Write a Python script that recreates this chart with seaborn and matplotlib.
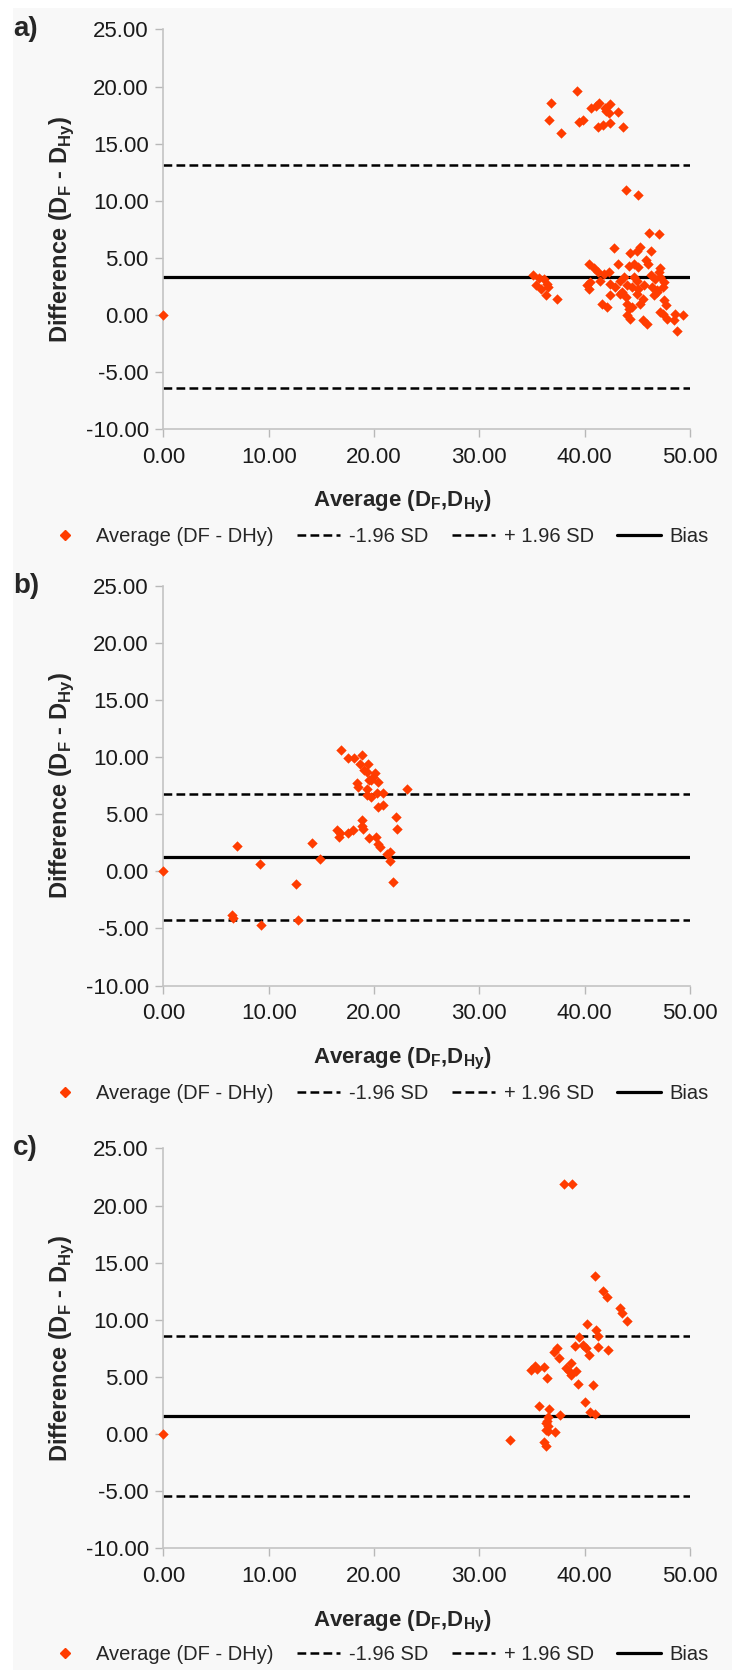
import matplotlib

matplotlib.use("Agg")
import matplotlib.pyplot as plt
import pandas as pd
import seaborn as sns
from matplotlib.lines import Line2D
from matplotlib.patches import Rectangle


# panel a) - average vs difference
A_AVG = [
    36.8, 36.6, 37.8, 39.3, 39.5, 39.8, 40.6, 41.4, 41.9, 42.4, 42.3, 43.2, 41.3, 41.7, 42.4, 43.6, 41.1, 42.0,
    43.9, 45.1,
    46.1, 47.05, 42.75, 44.3, 45.0, 45.3, 46.3, 45.8, 46.0, 43.2, 44.2, 44.7, 45.1, 47.2, 47.05,
    40.4, 40.85, 41.3, 41.8, 42.3, 35.06, 35.7, 36.1, 36.4, 36.55, 35.4, 35.9, 36.3, 37.35,
    40.2, 40.5, 40.4, 41.5, 42.4, 42.9, 43.4, 43.7, 44.7, 45.0, 44.0, 44.5, 45.1, 45.6,
    46.3, 46.7, 47.2, 47.5, 46.4, 46.9, 47.4, 43.4, 43.9, 43.55, 42.4, 45.0, 45.5, 45.3,
    46.6, 46.9, 41.6, 42.1, 44.0, 44.5, 44.2, 47.5, 47.7, 47.2, 47.4, 44.0, 44.35,
    45.5, 45.9, 47.8, 48.5, 48.6, 49.3, 48.8,
    0.0,
]
A_DIFF = [
    18.6, 17.1, 15.9, 19.6, 16.9, 17.05, 18.1, 18.6, 18.1, 18.5, 17.7, 17.75, 16.5, 16.65, 16.8, 16.5, 18.3, 17.9,
    10.98, 10.54,
    7.17, 7.11, 5.86, 5.42, 5.59, 6.0, 5.65, 4.84, 4.49, 4.49, 4.26, 4.43, 4.2, 4.14, 3.76,
    4.43, 4.14, 3.76, 3.6, 3.76, 3.47, 3.27, 3.18, 2.74, 2.45, 2.6, 2.3, 1.72, 1.43,
    2.6, 2.9, 2.3, 3.0, 2.74, 2.45, 3.0, 3.3, 3.3, 3.0, 2.6, 2.45, 2.3, 2.6,
    3.47, 3.18, 3.3, 2.89, 2.45, 2.16, 2.45, 1.87, 1.58, 2.0, 1.72, 1.87, 1.43, 1.0,
    1.72, 2.0, 1.0, 0.7, 1.0, 0.7, 0.56, 1.29, 0.85, 0.27, 0.13, -0.02, -0.31,
    -0.46, -0.81, -0.31, -0.46, 0.12, -0.02, -1.39,
    0.0,
]
A_LIMITS = [-6.4, 13.1]
A_BIAS = 3.35

# panel b)
B_AVG = [
    16.9, 17.5, 18.1, 18.9, 18.7, 19.4, 19.1, 19.3, 20.1, 19.9, 19.5, 19.7, 20.4, 18.4, 18.5,
    19.3, 20.3, 20.9, 19.3, 19.7, 20.4, 20.9, 23.1, 22.1, 22.2, 18.9, 18.9, 19.0,
    16.5, 16.8, 17.5, 18.0, 16.7, 19.5, 20.2, 20.4, 20.6, 21.2, 21.5, 21.5, 21.8,
    14.1, 14.9, 7.0, 9.2, 12.6, 6.5, 6.6, 12.8, 9.3, 0.0,
]
B_DIFF = [
    10.6, 9.9, 9.9, 10.2, 9.4, 9.4, 8.9, 8.7, 8.6, 8.3, 8.0, 8.0, 7.8, 7.7, 7.4,
    7.2, 6.9, 6.9, 6.7, 6.5, 5.6, 5.8, 7.2, 4.8, 3.7, 4.5, 4.0, 3.7,
    3.6, 3.4, 3.4, 3.6, 3.0, 2.9, 3.0, 2.4, 2.1, 1.55, 1.7, 0.9, -0.9,
    2.5, 1.1, 2.2, 0.64, -1.14, -3.86, -4.06, -4.3, -4.7, 0.0,
]
B_LIMITS = [-4.3, 6.8]
B_BIAS = 1.26

# panel c)
C_AVG = [
    38.0, 38.8, 41.0, 41.7, 42.1, 43.4, 43.5, 44.0, 40.2, 41.1, 41.3, 39.5, 39.1, 39.8, 40.1,
    40.4, 41.3, 42.2, 37.1, 37.4, 37.6, 34.9, 35.3, 35.5, 36.1, 36.4, 38.2, 38.5, 38.7, 39.2, 38.7,
    39.4, 40.8, 40.0, 35.7, 36.6, 36.5, 37.7, 40.5, 41.0,
    32.9, 36.3, 36.4, 36.5, 36.3, 36.5, 36.1, 36.3, 37.2, 0.0,
]
C_DIFF = [
    21.9, 21.9, 13.84, 12.55, 12.0, 11.0, 10.6, 9.9, 9.6, 9.1, 8.6, 8.5, 7.7, 7.8, 7.5,
    6.9, 7.6, 7.4, 7.2, 7.5, 6.7, 5.6, 6.0, 5.7, 5.9, 4.9, 5.8, 5.5, 6.2, 5.5, 5.2,
    4.4, 4.3, 2.8, 2.5, 2.2, 1.5, 1.7, 1.9, 1.8,
    -0.5, 1.0, 1.15, 0.7, 0.4, 0.3, -0.7, -1.0, 0.23, 0.0,
]
C_LIMITS = [-5.4, 8.55]
C_BIAS = 1.6

X_TICKS = [0, 10, 20, 30, 40, 50]
Y_TICKS = [-10, -5, 0, 5, 10, 15, 20, 25]
PANEL_LABELS = ["a)", "b)", "c)"]
LEGEND_LABELS = ["Average (DF - DHy)", "-1.96 SD", "+ 1.96 SD", "Bias"]

BG = "#f8f8f8"
RED = "#ff3c00"
DASH = (0, (3.5, 1.7))


def draw_panel(fig, rect, avg, diff, limits, bias, label, legend_y):
    ax = fig.add_axes(rect)
    ax.set_facecolor(BG)
    df = pd.DataFrame({"avg": avg, "diff": diff})
    sns.scatterplot(data=df, x="avg", y="diff", marker="D", s=28, color=RED,
                    linewidth=0, ax=ax, clip_on=False, zorder=3)
    for lim in limits:
        ax.axhline(lim, color="black", lw=1.8, linestyle=DASH, zorder=2)
    ax.axhline(bias, color="black", lw=2.3, zorder=2)

    ax.set_xlim(0, 50)
    ax.set_ylim(-10, 25)
    ax.set_xticks(X_TICKS)
    ax.set_yticks(Y_TICKS)
    ax.set_xticklabels([f"{t:.2f}" for t in X_TICKS])
    ax.set_yticklabels([f"{t:.2f}" for t in Y_TICKS])
    ax.tick_params(axis="both", labelsize=16, color="#b8b8b8", length=5.5, width=1,
                   labelcolor="#1a1a1a", pad=5)
    ax.tick_params(axis="x", pad=7)
    for side in ["top", "right"]:
        ax.spines[side].set_visible(False)
    for side in ["left", "bottom"]:
        ax.spines[side].set_color("#c4c4c4")
        ax.spines[side].set_linewidth(1.2)

    ax.set_xlabel(r"Average (D$_\mathregular{F}$,D$_\mathregular{Hy}$)", fontsize=16,
                  fontweight="bold")
    ax.xaxis.set_label_coords(0.455, -0.15)
    ax.set_ylabel(r"Difference (D$_\mathregular{F}$ - D$_\mathregular{Hy}$)", fontsize=17,
                  fontweight="bold")
    ax.yaxis.set_label_coords(-0.165, 0.5)

    fig.text(0.018, rect[1] + rect[3], label, fontsize=20, fontweight="bold",
             va="center", ha="left")

    handles = [
        Line2D([], [], marker="D", color=RED, linestyle="none", markersize=5),
        Line2D([], [], color="black", lw=1.8, linestyle=DASH),
        Line2D([], [], color="black", lw=1.8, linestyle=DASH),
        Line2D([], [], color="black", lw=2.3),
    ]
    ax.legend(handles, LEGEND_LABELS, loc="center", bbox_to_anchor=(0.514, legend_y),
              bbox_transform=fig.transFigure, ncol=4, frameon=False, fontsize=14.5,
              handlelength=2.15, handletextpad=0.45, columnspacing=1.15, borderpad=0)
    return ax


def main():
    sns.set_style("ticks")
    plt.rcParams["font.family"] = ["Liberation Sans", "DejaVu Sans"]
    plt.rcParams["mathtext.fontset"] = "custom"
    plt.rcParams["mathtext.rm"] = "Liberation Sans:bold"
    plt.rcParams["mathtext.bf"] = "Liberation Sans:bold"

    fig = plt.figure(figsize=(7.32, 16.7), dpi=100, facecolor="white")
    # light grey page with a thin white margin at top and left
    fig.patches.append(Rectangle((13 / 732, 0), 1, 1 - 8 / 1670, transform=fig.transFigure,
                                 facecolor=BG, edgecolor="none", zorder=-1))

    left, width, height = 0.2231, 0.7195, 0.2395
    draw_panel(fig, [left, 0.7429, width, height], A_AVG, A_DIFF, A_LIMITS, A_BIAS,
               PANEL_LABELS[0], 0.679)
    draw_panel(fig, [left, 0.4098, width, height], B_AVG, B_DIFF, B_LIMITS, B_BIAS,
               PANEL_LABELS[1], 0.345)
    draw_panel(fig, [left, 0.0728, width, height], C_AVG, C_DIFF, C_LIMITS, C_BIAS,
               PANEL_LABELS[2], 0.0095)
    fig.savefig("out.png", dpi=100, facecolor="white")
    plt.close(fig)


if __name__ == "__main__":
    main()
